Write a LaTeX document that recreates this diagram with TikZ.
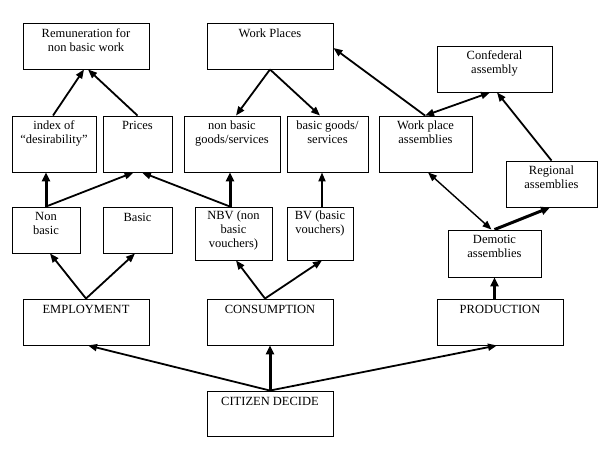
\documentclass[tikz,border=0pt]{standalone}
\usepackage{fontspec}
\setmainfont{Liberation Serif}
\usetikzlibrary{arrows.meta,calc}
\begin{document}
\begin{tikzpicture}[x=1pt,y=-1pt,
  box/.style={draw,line width=0.9pt,rectangle,inner sep=0pt,minimum height=46pt},
  txt/.style={anchor=north,inner sep=0pt,align=center,font=\fontsize{12.5}{14}\selectfont},
  arr/.style={line width=1.8pt,-{Triangle[length=9pt,width=7pt]}},
  thinarr/.style={line width=1.4pt,-{Triangle[length=9pt,width=7pt]}},
  thickarr/.style={line width=3pt,-{Triangle[length=9pt,width=8pt]}},
  darr/.style={line width=1.8pt,{Triangle[length=9pt,width=7pt]}-{Triangle[length=9pt,width=7pt]}},
  dthinarr/.style={line width=1.4pt,{Triangle[length=9pt,width=7pt]}-{Triangle[length=9pt,width=7pt]}}
]
\useasboundingbox (0,0) rectangle (599,449);
% boxes
\node[box,minimum width=126pt] (rem) at (86,46) {};
\node[box,minimum width=126pt] (wp) at (270,46) {};
\node[box,minimum width=115pt] (conf) at (494.5,69) {};
\node[box,minimum width=84pt,minimum height=56pt] (idx) at (54,144) {};
\node[box,minimum width=69pt,minimum height=56pt] (pri) at (137.5,144) {};
\node[box,minimum width=96pt,minimum height=56pt] (nbg) at (232,144) {};
\node[box,minimum width=81pt,minimum height=56pt] (bg) at (327.5,144) {};
\node[box,minimum width=93pt,minimum height=56pt] (wpa) at (425.5,144) {};
\node[box,minimum width=91pt] (reg) at (551.5,184) {};
\node[box,minimum width=68pt] (nb) at (46,230) {};
\node[box,minimum width=69pt] (bas) at (137.5,230) {};
\node[box,minimum width=77pt,minimum height=53pt] (nbv) at (233.5,233.5) {};
\node[box,minimum width=66pt,minimum height=53pt] (bv) at (320,233.5) {};
\node[box,minimum width=93pt,minimum height=47pt] (dem) at (494.5,253.5) {};
\node[box,minimum width=126pt] (emp) at (86,322) {};
\node[box,minimum width=126pt] (con) at (270,322) {};
\node[box,minimum width=126pt] (pro) at (500,322) {};
\node[box,minimum width=126pt,minimum height=45pt] (cit) at (270,413.5) {};
% texts
\node[txt] (rem-t) at ([yshift=-6pt]rem.north) {Remuneration for\\non basic work};
\node[txt] (wp-t) at ([yshift=-6pt]wp.north) {Work Places};
\node[txt] (conf-t) at ([yshift=-5pt]conf.north) {Confederal\\assembly};
\node[txt] (idx-t) at ([yshift=-5pt]idx.north) {index of\\``desirability''};
\node[txt] (pri-t) at ([yshift=-5pt]pri.north) {Prices};
\node[txt] (nbg-t) at ([yshift=-5pt]nbg.north) {non basic\\goods/services};
\node[txt] (bg-t) at ([yshift=-5pt]bg.north) {basic goods/\\services};
\node[txt] (wpa-t) at ([yshift=-5pt]wpa.north) {Work place\\assemblies};
\node[txt] (reg-t) at ([yshift=-5pt]reg.north) {Regional\\assemblies};
\node[txt] (nb-t) at ([yshift=-6pt]nb.north) {Non\\basic};
\node[txt] (bas-t) at ([yshift=-6pt]bas.north) {Basic};
\node[txt] (nbv-t) at ([yshift=-4pt]nbv.north) {NBV (non\\basic\\vouchers)};
\node[txt] (bv-t) at ([yshift=-4pt]bv.north) {BV (basic\\vouchers)};
\node[txt] (dem-t) at ([yshift=-5pt]dem.north) {Demotic\\assemblies};
\node[txt] (emp-t) at ([yshift=-6pt]emp.north) {EMPLOYMENT};
\node[txt] (con-t) at ([yshift=-6pt]con.north) {CONSUMPTION};
\node[txt] (pro-t) at ([yshift=-6pt]pro.north) {PRODUCTION};
\node[txt] (cit-t) at ([yshift=-6pt]cit.north) {CITIZEN DECIDE};
% connectors
\draw[arr] ([xshift=-1pt]idx.north) -- ([xshift=-2pt]rem.south);
\draw[arr] (pri.north) -- ([xshift=2pt]rem.south);
\draw[thickarr] (nb.north) -- (nb.north |- idx.south);
\draw[arr] (nb.north) -- ([xshift=-4pt]pri.south);
\draw[arr] ([xshift=-3.5pt]nbv.north) -- ([xshift=4.5pt]pri.south);
\draw[thickarr] ([xshift=-3.5pt]nbv.north) -- ([xshift=-3.5pt]nbv.north |- nbg.south);
\draw[arr] (wp.south) -- ([xshift=4pt]nbg.north);
\draw[arr] (wp.south) -- ([xshift=-7.5pt]bg.north);
\draw[arr] ([xshift=2pt]bv.north) -- ([xshift=2pt]bv.north |- bg.south);
\draw[arr] (emp.north) -- ([xshift=4pt]nb.south);
\draw[arr] (emp.north) -- ([xshift=-2.5pt]bas.south);
\draw[arr] ([xshift=-5pt]con.north) -- ([xshift=2.5pt]nbv.south);
\draw[arr] ([xshift=-5pt]con.north) -- ([xshift=2pt]bv.south);
\draw[arr] (cit.north) -- ([xshift=2pt]emp.south);
\draw[thickarr] (cit.north) -- (con.south);
\draw[arr] (cit.north) -- ([xshift=-3pt]pro.south);
\draw[thickarr] ([xshift=-5.5pt]pro.north) -- ([xshift=-5.5pt]pro.north |- dem.south);
\draw[dthinarr] ([xshift=2.5pt]wpa.south) -- ([xshift=-3pt]dem.north);
\draw[thickarr] (dem.north) -- ([xshift=-1.5pt]reg.south);
\draw[arr] (reg.north) -- ([xshift=2.5pt]conf.south);
\draw[darr] ([xshift=-0.5pt]wpa.north) -- ([xshift=-4.5pt]conf.south);
\draw[arr] ([xshift=-0.5pt]wpa.north) -- ([yshift=-2pt]wp.east);
\end{tikzpicture}
\end{document}
